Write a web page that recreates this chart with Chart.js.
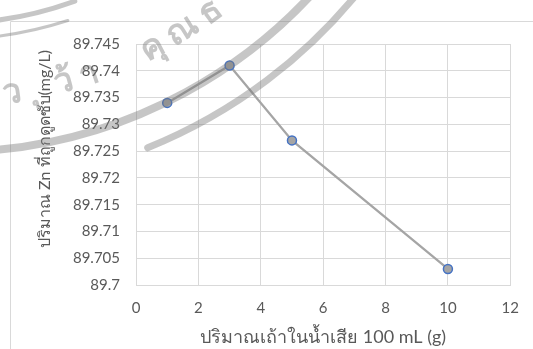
<!DOCTYPE html>
<html>
<head>
<meta charset="utf-8">
<script src="https://cdn.jsdelivr.net/npm/chart.js@4.4.1/dist/chart.umd.min.js"></script>
<style>
  html, body { margin: 0; padding: 0; background: #ffffff; }
  #wrap { position: relative; width: 533px; height: 349px; }
</style>
</head>
<body>
<div id="wrap"><canvas id="chart" width="533" height="349"></canvas></div>
<script>
// Ash dose added to 100 mL of wastewater (g)
const ashGrams = [1, 3, 5, 10];
// Zn remaining after adsorption (mg/L)
const zincMgL = [89.734, 89.741, 89.727, 89.703];

const xTitle = 'ปริมาณเถ้าในน้ำเสีย 100 mL (g)';
const yTitle = 'ปริมาณ Zn ที่ถูกดูดซับ(mg/L)';
const sealText = ['ว', 'ุ', 'ว้', 'า', 'คุ', 'ณ', 'ธ'];

const FONT = 'Lato, "Noto Sans", "DejaVu Sans", sans-serif';
const INK = '#595959';
const GRID = '#d9d9d9';

// Light frame around the chart object
const framePlugin = {
  id: 'frame',
  beforeDraw(chart) {
    const ctx = chart.ctx;
    ctx.save();
    ctx.strokeStyle = GRID;
    ctx.lineWidth = 1;
    ctx.beginPath();
    ctx.moveTo(10.5, 349);
    ctx.lineTo(10.5, 21.5);
    ctx.lineTo(533, 21.5);
    ctx.stroke();
    ctx.restore();
  }
};

// Vertical axis caption, centred a little above the plot middle
const yCaptionPlugin = {
  id: 'yCaption',
  afterDraw(chart) {
    const ctx = chart.ctx;
    ctx.save();
    ctx.translate(45, 149);
    ctx.rotate(-Math.PI / 2);
    ctx.font = '16px ' + FONT;
    ctx.fillStyle = INK;
    ctx.textAlign = 'center';
    ctx.textBaseline = 'middle';
    ctx.fillText(yTitle, 0, 0);
    ctx.restore();
  }
};

// Faded institutional seal stamped over the page
const sealPlugin = {
  id: 'seal',
  afterDraw(chart) {
    const ctx = chart.ctx;
    const cx = -49, cy = -339;
    const rad = d => d * Math.PI / 180;
    ctx.save();
    ctx.strokeStyle = 'rgba(120,120,120,0.42)';
    ctx.fillStyle = 'rgba(120,120,120,0.42)';
    ctx.lineCap = 'round';
    // outer rings
    ctx.lineWidth = 8;
    ctx.beginPath();
    ctx.arc(cx, cy, 491, rad(35), rad(88));
    ctx.stroke();
    ctx.lineWidth = 7;
    ctx.beginPath();
    ctx.arc(cx, cy, 525, rad(38), rad(68));
    ctx.stroke();
    // inner ornament ring
    ctx.lineWidth = 5;
    ctx.beginPath();
    ctx.arc(cx, cy, 362, rad(70), rad(100));
    ctx.stroke();
    ctx.lineWidth = 3;
    ctx.beginPath();
    ctx.arc(cx, cy, 378, rad(72), rad(96));
    ctx.stroke();
    // lettering along the ring
    ctx.font = 'bold 34px "Noto Sans", "DejaVu Sans", sans-serif';
    ctx.textAlign = 'center';
    ctx.textBaseline = 'middle';
    const angles = [82, 78.5, 75, 71.5, 62.5, 58, 53.5];
    sealText.forEach((ch, i) => {
      const th = rad(angles[i]);
      const r = 436;
      ctx.save();
      ctx.translate(cx + r * Math.cos(th), cy + r * Math.sin(th));
      ctx.rotate(th - Math.PI / 2);
      ctx.fillText(ch, 0, 0);
      ctx.restore();
    });
    ctx.restore();
  }
};

new Chart(document.getElementById('chart'), {
  type: 'scatter',
  data: {
    datasets: [{
      data: ashGrams.map((x, i) => ({ x, y: zincMgL[i] })),
      showLine: true,
      borderColor: '#a5a5a5',
      borderWidth: 2.25,
      backgroundColor: '#a5a5a5',
      pointBackgroundColor: '#a5a5a5',
      pointBorderColor: '#4472c4',
      pointBorderWidth: 1.5,
      pointRadius: 4.5,
      pointHoverRadius: 4.5,
      tension: 0
    }]
  },
  options: {
    responsive: false,
    animation: false,
    events: [],
    layout: { padding: { left: 0, top: 44, right: 21, bottom: 0 } },
    plugins: {
      legend: { display: false },
      tooltip: { enabled: false }
    },
    scales: {
      x: {
        type: 'linear',
        min: 0,
        max: 12,
        afterFit(scale) { scale.height = 64; },
        ticks: {
          stepSize: 2,
          padding: 14,
          color: INK,
          font: { family: FONT, size: 15 }
        },
        grid: { color: GRID, lineWidth: 1, drawTicks: false },
        border: { color: GRID, width: 1 },
        title: {
          display: true,
          text: xTitle,
          color: INK,
          font: { family: FONT, size: 18 },
          padding: { top: 1, bottom: 1 }
        }
      },
      y: {
        type: 'linear',
        min: 89.7,
        max: 89.745,
        afterFit(scale) { scale.width = 136; },
        ticks: {
          stepSize: 0.005,
          padding: 16,
          color: INK,
          font: { family: FONT, size: 15 },
          callback: v => String(Number(v.toFixed(3)))
        },
        grid: { color: GRID, lineWidth: 1, drawTicks: false },
        border: { color: GRID, width: 1 },
        title: { display: false, text: yTitle }
      }
    }
  },
  plugins: [framePlugin, yCaptionPlugin, sealPlugin]
});
</script>
</body>
</html>
